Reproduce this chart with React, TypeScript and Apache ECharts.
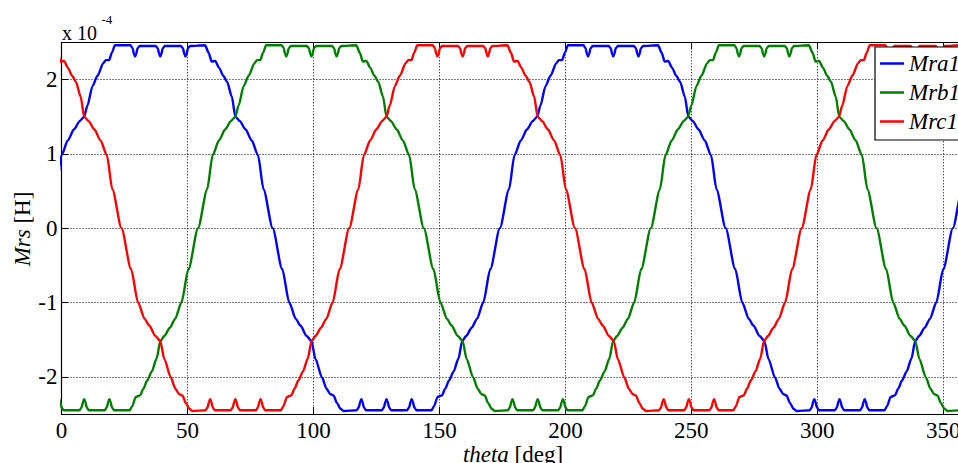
import React, { useEffect, useRef } from "react";
import * as echarts from "echarts";

const SERIF = "Liberation Serif";

const seriesNames = ["Mra1", "Mrb1", "Mrc1"];
const seriesColors = ["#0000ff", "#008000", "#ff0000"];

// One electrical period of the rotor-stator mutual inductance (x 1e-4 H),
// as [angle offset in deg from the rising crossing of +1.5, value].
const cycleShape: [number, number][] = [
  [-42, -2.45], [-41, -2.4], [-39.5, -2.27], [-37.8, -2.25], [-36.5, -2.16],
  [-35, -2.05], [-33.2, -1.93], [-31.2, -1.75], [-29.8, -1.52], [-28.2, -1.45],
  [-26, -1.34], [-23.9, -1.22], [-21.4, -1.0], [-18.6, -0.55], [-14.8, 0.0],
  [-11.2, 0.52], [-9, 0.98], [-6.5, 1.18], [-4, 1.33], [-1.8, 1.44],
  [0, 1.5], [1.3, 1.65], [3.3, 1.91], [5.3, 2.05], [7.6, 2.22],
  [8.6, 2.26], [9.9, 2.26], [11, 2.36], [12.2, 2.46], [18.4, 2.46],
  [19.2, 2.42], [19.8, 2.34], [20.2, 2.31], [20.6, 2.34], [21.2, 2.42],
  [22, 2.45], [28.4, 2.45], [29.2, 2.42], [29.8, 2.34], [30.2, 2.31],
  [30.6, 2.34], [31.2, 2.42], [32, 2.45], [38.4, 2.45], [39.2, 2.42],
  [39.8, 2.34], [40.2, 2.31], [40.6, 2.34], [41.2, 2.42], [42, 2.45],
  [48, 2.46], [49.4, 2.36], [50.6, 2.24], [52, 2.25], [53.5, 2.16],
  [55.2, 2.05], [56.7, 1.97], [58.6, 1.77], [60, 1.5], [61.8, 1.44],
  [64, 1.33], [66.5, 1.18], [69, 0.98], [71.2, 0.52], [74.8, 0.0],
  [78.6, -0.55], [81.4, -1.0], [84, -1.22], [85.8, -1.31], [88.3, -1.45],
  [90.2, -1.52], [91.8, -1.76], [94.4, -2.01], [96.2, -2.16], [97.6, -2.23],
  [99, -2.25], [100.3, -2.35], [101.7, -2.43], [103, -2.46], [108.2, -2.45],
  [109, -2.41], [109.6, -2.33], [110, -2.3], [110.4, -2.33], [111, -2.41],
  [111.8, -2.45], [118.2, -2.45], [119, -2.41], [119.6, -2.33], [120, -2.3],
  [120.4, -2.33], [121, -2.41], [121.8, -2.45], [128.2, -2.45], [129, -2.41],
  [129.6, -2.33], [130, -2.3], [130.4, -2.33], [131, -2.41], [131.8, -2.45],
  [136, -2.45],
];

// Rotor angles (deg) at which each phase rises through +1.5e-4 H.
const mra1Rises = [9, 188.8, 368.6];
const mrb1Rises = [-111, 69, 248.7];
const mrc1Rises = [-51, 129, 308.6];

function placeCycles(rises: number[]): [number, number][] {
  const pts: [number, number][] = [];
  rises.forEach((r) => {
    cycleShape.forEach(([t, v]) => {
      pts.push([Math.round((r + t) * 100) / 100, v]);
    });
  });
  return pts.filter(([x]) => x >= -50 && x <= 410);
}

export default function App() {
  const ref = useRef<HTMLDivElement>(null);

  useEffect(() => {
    const chart = echarts.init(ref.current!, null, { renderer: "svg" });
    const rises = [mra1Rises, mrb1Rises, mrc1Rises];
    const gridDots = { color: "#000", width: 1, type: [1, 2] as number[] };
    const richName = {
      i: { fontFamily: SERIF, fontSize: 23, fontStyle: "italic", fill: "#000", color: "#000" },
      n: { fontFamily: SERIF, fontSize: 23, fill: "#000", color: "#000" },
    };
    const frame = { show: true, onZero: false, lineStyle: { color: "#000", width: 1.2 } };
    const innerTicks = { show: true, inside: true, length: 7, lineStyle: { color: "#000" } };

    chart.setOption({
      animation: false,
      backgroundColor: "#fff",
      grid: {
        left: 61.5,
        top: 42.3,
        right: -10.5,
        bottom: 49,
        show: false,
        containLabel: false,
        outerBoundsMode: "none",
      },
      xAxis: [
        {
          type: "value",
          min: 0,
          max: 360,
          interval: 50,
          position: "bottom",
          axisLine: frame,
          axisTick: innerTicks,
          axisLabel: {
            fontFamily: SERIF,
            fontSize: 23,
            color: "#000",
            margin: 5,
            formatter: (v: number) => (v > 355 ? "" : String(v)),
          },
          splitLine: { show: true, lineStyle: gridDots },
        },
        {
          type: "value",
          min: 0,
          max: 360,
          interval: 50,
          position: "top",
          axisLine: frame,
          axisTick: innerTicks,
          axisLabel: { show: false },
          splitLine: { show: false },
        },
      ],
      yAxis: [
        {
          type: "value",
          min: -2.5,
          max: 2.5,
          splitNumber: 5,
          position: "left",
          axisLine: frame,
          axisTick: innerTicks,
          axisLabel: {
            fontFamily: SERIF,
            fontSize: 23,
            color: "#000",
            margin: 4,
            formatter: (v: number) => (Math.abs(v) > 2.4 ? "" : String(v)),
          },
          splitLine: { show: true, lineStyle: gridDots },
        },
        {
          type: "value",
          min: -2.5,
          max: 2.5,
          splitNumber: 5,
          position: "right",
          axisLine: frame,
          axisTick: innerTicks,
          axisLabel: { show: false },
          splitLine: { show: false },
        },
      ],
      legend: {
        orient: "vertical",
        left: 875,
        top: 47,
        data: seriesNames,
        icon: "rect",
        itemWidth: 24,
        itemHeight: 2.5,
        itemGap: 6,
        padding: [5, 14, 7, 5],
        backgroundColor: "#fff",
        borderColor: "#000",
        borderWidth: 1.2,
        selectedMode: false,
        textStyle: {
          fontFamily: SERIF,
          fontStyle: "italic",
          fontSize: 23,
          color: "#000",
        },
      },
      graphic: [
        {
          type: "text",
          x: 62,
          y: 33,
          style: {
            text: "x 10",
            fontFamily: SERIF,
            fontSize: 20,
            fill: "#000",
            verticalAlign: "middle",
          },
        },
        {
          type: "text",
          x: 101.5,
          y: 19.5,
          style: {
            text: "-4",
            fontFamily: SERIF,
            fontSize: 13,
            fill: "#000",
            verticalAlign: "middle",
          },
        },
        {
          // x-axis title
          type: "text",
          x: 513,
          y: 454,
          style: {
            text: "{i|theta}{n| [deg]}",
            rich: richName,
            fontFamily: SERIF,
            fontSize: 23,
            fill: "#000",
            align: "center",
            verticalAlign: "middle",
          },
        },
        {
          // y-axis title, reading bottom to top
          type: "text",
          x: 22,
          y: 229,
          rotation: Math.PI / 2,
          style: {
            text: "{i|Mrs}{n| [H]}",
            rich: richName,
            fontFamily: SERIF,
            fontSize: 23,
            fill: "#000",
            align: "center",
            verticalAlign: "middle",
          },
        },
      ],
      series: seriesNames.map((name, i) => ({
        name,
        type: "line",
        data: placeCycles(rises[i]),
        showSymbol: false,
        symbol: "none",
        smooth: 0.25,
        smoothMonotone: "x",
        clip: true,
        color: seriesColors[i],
        lineStyle: { color: seriesColors[i], width: 2.4 },
      })),
    });

    return () => chart.dispose();
  }, []);

  return (
    <div
      ref={ref}
      style={{ position: "fixed", left: 0, top: 0, width: 958, height: 463, background: "#fff" }}
    />
  );
}
